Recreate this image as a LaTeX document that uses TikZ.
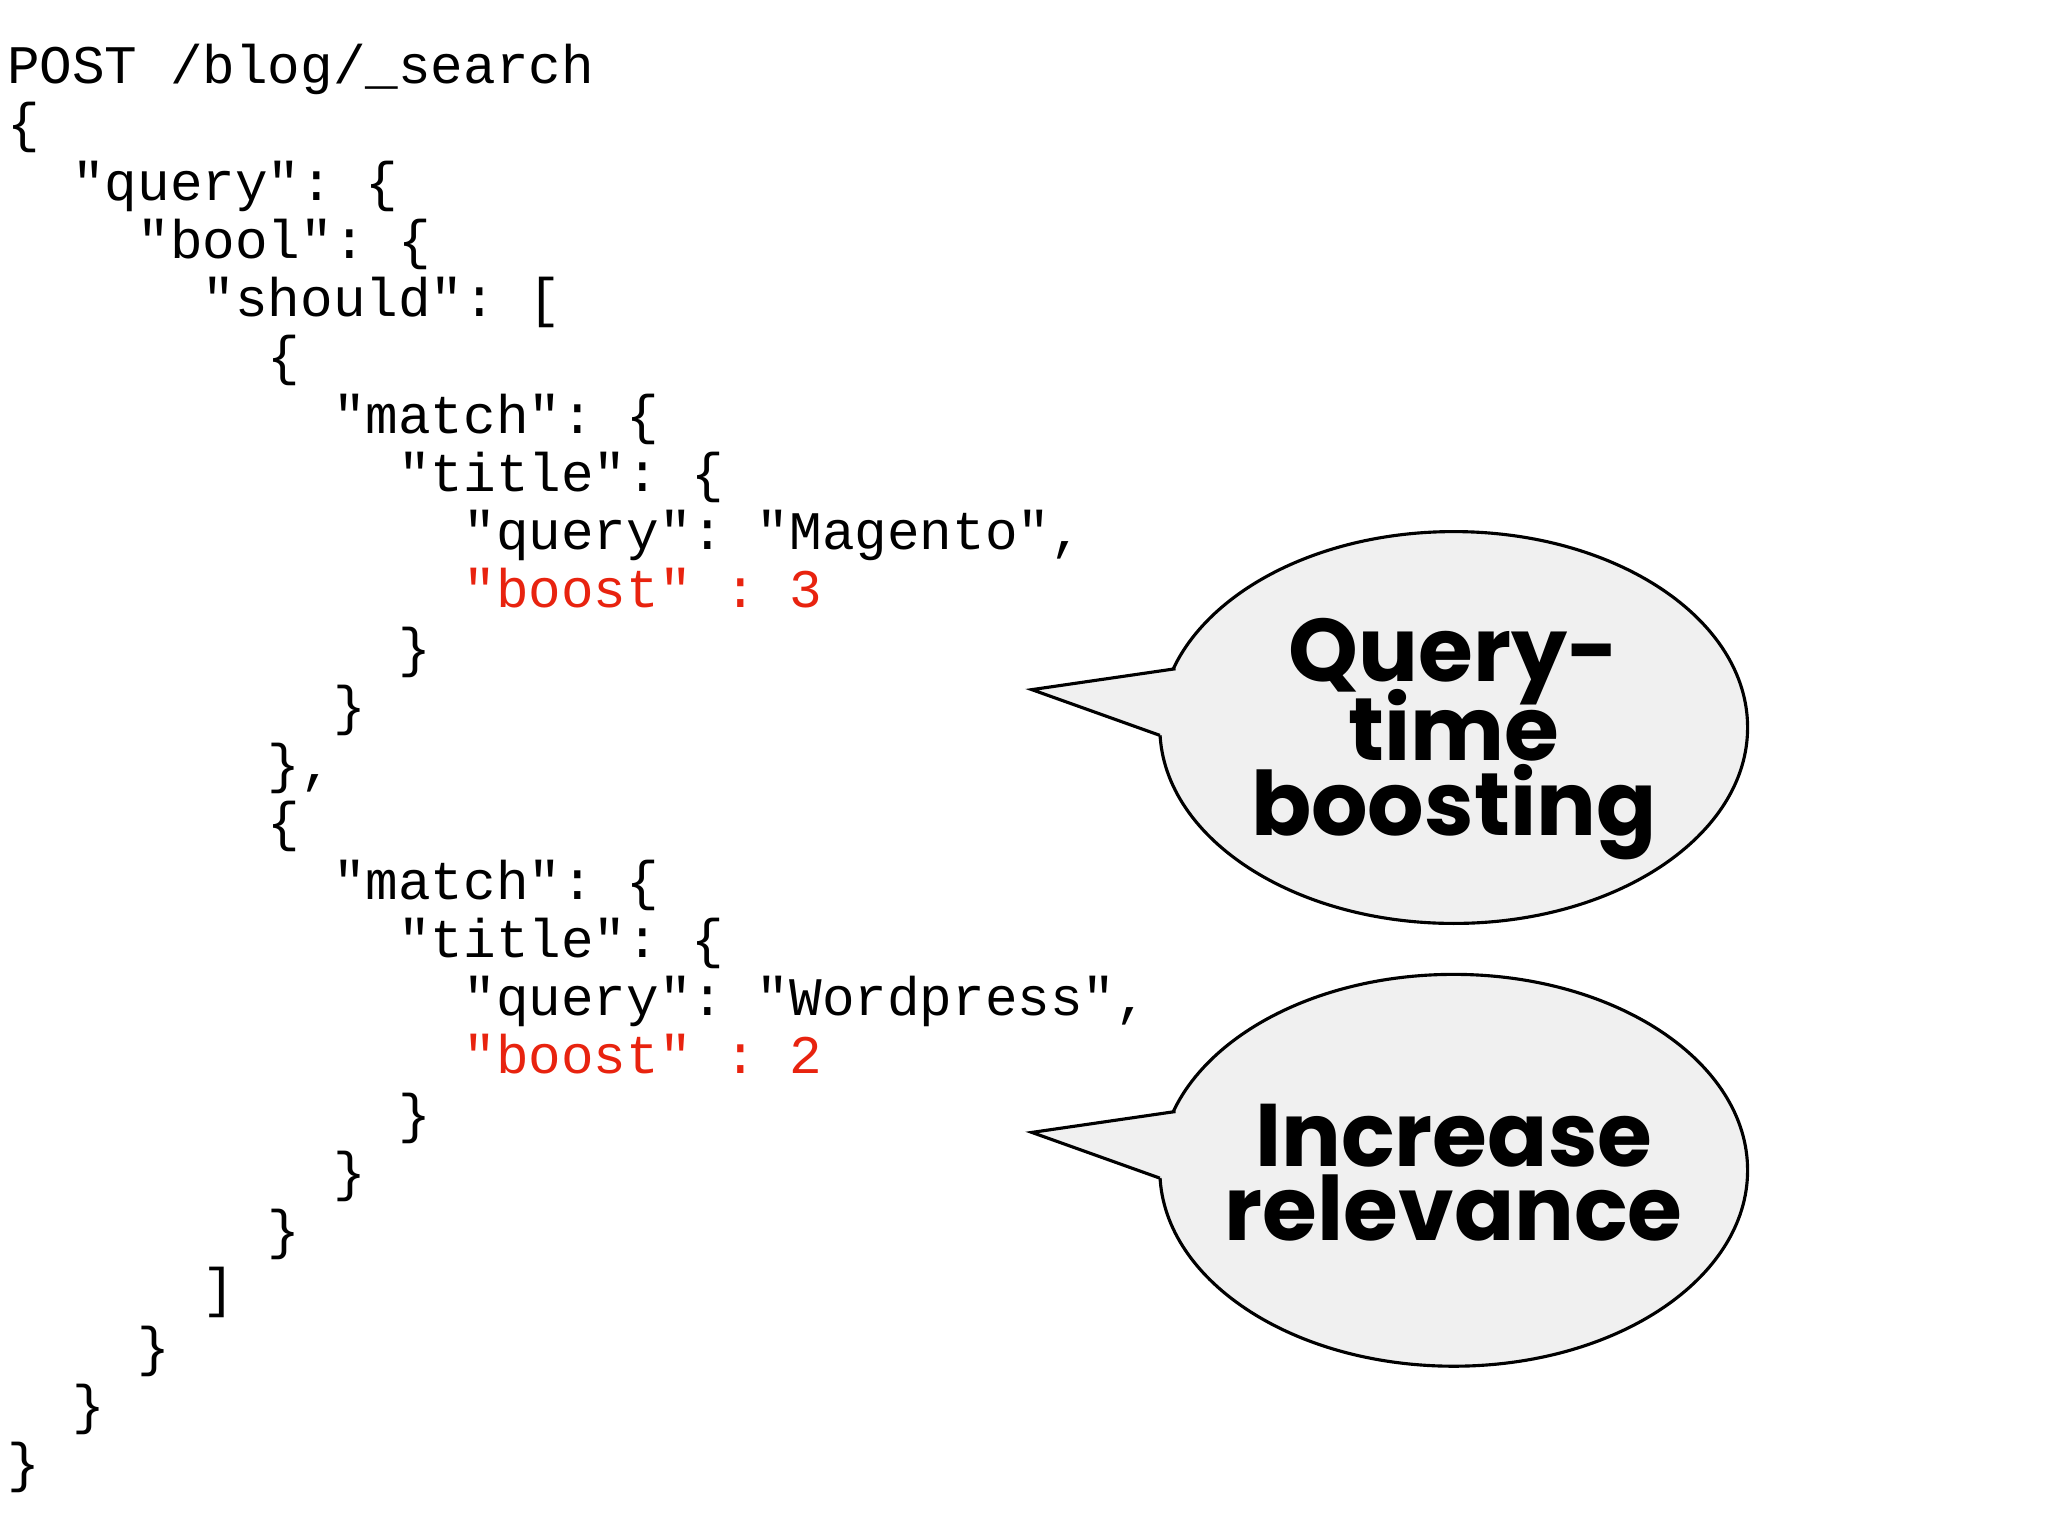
\documentclass[tikz,border=0pt]{standalone}
\usepackage{fontspec}
\setmonofont{Liberation Mono}
\newfontfamily\bubfont{Poppins}
\definecolor{bred}{HTML}{E8230F}
\definecolor{bfill}{HTML}{F0F0F0}
\begin{document}
\begin{tikzpicture}[x=0.5pt,y=-0.5pt,
  code/.style={anchor=base west,inner sep=0pt,font=\ttfamily\fontsize{20.8}{22}\selectfont},
  red/.style={code,text=bred},
  bub/.style={fill=bfill,draw=black,line width=1.2pt},
  btxt/.style={anchor=base,inner sep=0pt,font=\bubfont\bfseries\fontsize{34}{30}\selectfont}]
\useasboundingbox (0,0) rectangle (1568,1176);
\foreach \i/\t in {0/{POST /blog/\_search},1/\{,2/{\ \ "query": \{},3/{\ \ \ \ "bool": \{},4/{\ \ \ \ \ \ "should": [},5/{\ \ \ \ \ \ \ \ \{},6/{\ \ \ \ \ \ \ \ \ \ "match": \{},7/{\ \ \ \ \ \ \ \ \ \ \ \ "title": \{},8/{\ \ \ \ \ \ \ \ \ \ \ \ \ \ "query": "Magento",},10/{\ \ \ \ \ \ \ \ \ \ \ \ \}},11/{\ \ \ \ \ \ \ \ \ \ \}},12/{\ \ \ \ \ \ \ \ \},},13/{\ \ \ \ \ \ \ \ \{},14/{\ \ \ \ \ \ \ \ \ \ "match": \{},15/{\ \ \ \ \ \ \ \ \ \ \ \ "title": \{},16/{\ \ \ \ \ \ \ \ \ \ \ \ \ \ "query": "Wordpress",},18/{\ \ \ \ \ \ \ \ \ \ \ \ \}},19/{\ \ \ \ \ \ \ \ \ \ \}},20/{\ \ \ \ \ \ \ \ \}},21/{\ \ \ \ \ \ ]},22/{\ \ \ \ \}},23/{\ \ \}},24/\}}
  \node[code] (l\i) at (5,64+44.6*\i) {\t};
\node[red] (l9) at (5,64+44.6*9) {\ \ \ \ \ \ \ \ \ \ \ \ \ \ "boost" : 3};
\node[red] (l17) at (5,64+44.6*17) {\ \ \ \ \ \ \ \ \ \ \ \ \ \ "boost" : 2};
\foreach \n/\cy in {a/557,b/896}{
  \path[bub] (1113,\cy) ellipse[x radius=225,y radius=150];
  \fill[bfill] (790,\cy-29) -- (900,\cy-45) -- (960,\cy-10) -- (888,\cy+6) -- cycle;
  \draw[line width=1.2pt,line join=miter] (900,\cy-45) -- (790,\cy-29) coordinate (tip\n) -- (888,\cy+6);
}
\node[btxt] (q1) at (1113,522) {Query-};
\node[btxt] (q2) at (1113,582) {time};
\node[btxt] (q3) at (1113,640) {boosting};
\node[btxt] (r1) at (1113,893) {Increase};
\node[btxt] (r2) at (1113,950) {relevance};
\end{tikzpicture}
\end{document}
